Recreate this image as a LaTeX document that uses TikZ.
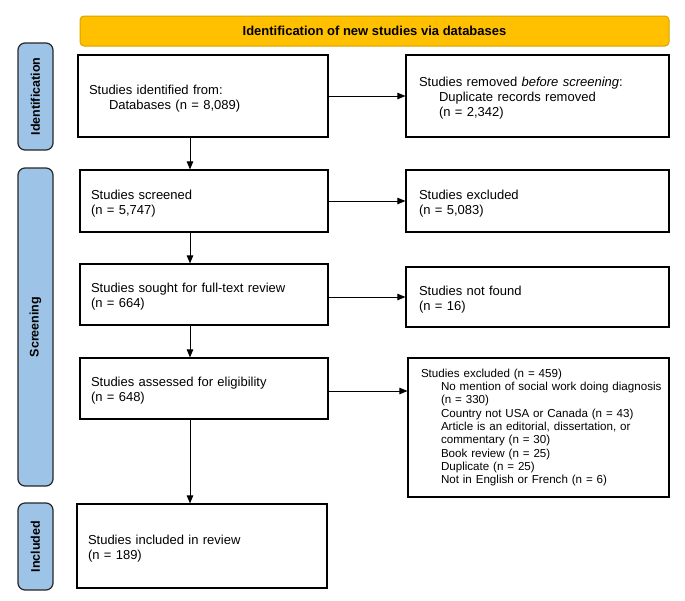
\documentclass[tikz,border=0pt]{standalone}
\usepackage{fontspec}
\setmainfont{Liberation Sans}
\usetikzlibrary{arrows.meta}
\definecolor{sideblue}{HTML}{9DC3E6}
\definecolor{bannerfill}{HTML}{FFC000}
\definecolor{bannerdraw}{HTML}{D9A300}
\newcommand\myind[1]{\mbox{\hspace*{20pt}#1}}
\newcommand\tp{\rule{0pt}{14pt}}
\begin{document}
\begin{tikzpicture}[x=1pt,y=-1pt,
  box/.style={draw=black, line width=1.2pt, align=left, inner xsep=11pt, inner ysep=0pt, font=\fontsize{13}{15}\selectfont},
  sbox/.style={box, inner xsep=13pt, font=\fontsize{11.6}{13.3}\selectfont},
  side/.style={draw=black!85, fill=sideblue, line width=1.2pt, rounded corners=7pt, rotate=90, inner sep=0pt, font=\bfseries\fontsize{12.5}{14}\selectfont},
  banner/.style={draw=bannerdraw, fill=bannerfill, line width=1pt, rounded corners=4pt, inner sep=0pt, font=\bfseries\fontsize{13}{15}\selectfont},
  arr/.style={-{Triangle[length=8pt,width=6.5pt]}, line width=0.8pt}]
\useasboundingbox (0,0) rectangle (685,600);

% banner
\node[banner, minimum width=589, minimum height=30] (ban) at (374.5,31) {Identification of new studies via databases};

% side bars
\node[side, minimum width=107, minimum height=35] (sid) at (35.5,96.5) {Identification};
\node[side, minimum width=318, minimum height=35] (sscr) at (35.5,327) {Screening};
\node[side, minimum width=87, minimum height=35] (sinc) at (35.5,546.5) {Included};

% left column
\node[box, minimum width=250, minimum height=82, text width=228] (b1) at (203,96)
  {\tp Studies identified from:\\\myind{Databases (n = 8,089)}};
\node[box, minimum width=248, minimum height=62, text width=226] (scr) at (204,201)
  {\tp Studies screened\\(n = 5,747)};
\node[box, minimum width=248, minimum height=61, text width=226] (sou) at (204,294.5)
  {\tp Studies sought for full-text review\\(n = 664)};
\node[box, minimum width=248, minimum height=61, text width=226] (ass) at (204,388.5)
  {\tp Studies assessed for eligibility\\(n = 648)};
\node[box, minimum width=250, minimum height=84, text width=228] (inc) at (202,546)
  {\tp Studies included in review\\(n = 189)};

% right column
\node[box, inner xsep=13pt, minimum width=263, minimum height=82, text width=237] (rem) at (537.5,96)
  {\tp Studies removed \textit{before screening}:\\\myind{Duplicate records removed}\\\myind{(n = 2,342)}};
\node[box, inner xsep=13pt, minimum width=263, minimum height=62, text width=237] (ex1) at (537.5,201)
  {\tp Studies excluded\\(n = 5,083)};
\node[box, inner xsep=13pt, minimum width=263, minimum height=60, text width=237] (nf) at (537.5,297)
  {\tp Studies not found\\(n = 16)};
\node[sbox, minimum width=261, minimum height=139, text width=235] (ex2) at (538.5,427.5)
  {Studies excluded (n = 459)\\
   \myind{No mention of social work doing diagnosis}\\
   \myind{(n = 330)}\\
   \myind{Country not USA or Canada (n = 43)}\\
   \myind{Article is an editorial, dissertation, or}\\
   \myind{commentary (n = 30)}\\
   \myind{Book review (n = 25)}\\
   \myind{Duplicate (n = 25)}\\
   \myind{Not in English or French (n = 6)}};

% connectors
\coordinate (ax) at (190,0);
\draw[arr] (b1.south -| ax) -- (scr.north -| ax);
\draw[arr] (scr.south -| ax) -- (sou.north -| ax);
\draw[arr] (sou.south -| ax) -- (ass.north -| ax);
\draw[arr] (ass.south -| ax) -- (inc.north -| ax);

\draw[arr] (b1.east) -- (rem.west);
\draw[arr] (scr.east) -- (ex1.west);
\draw[arr] (sou.east |- nf.west) -- (nf.west);
\draw[arr] ([yshift=-2.5pt]ass.east) -- ([yshift=-2.5pt]ass.east -| ex2.west);
\end{tikzpicture}
\end{document}
